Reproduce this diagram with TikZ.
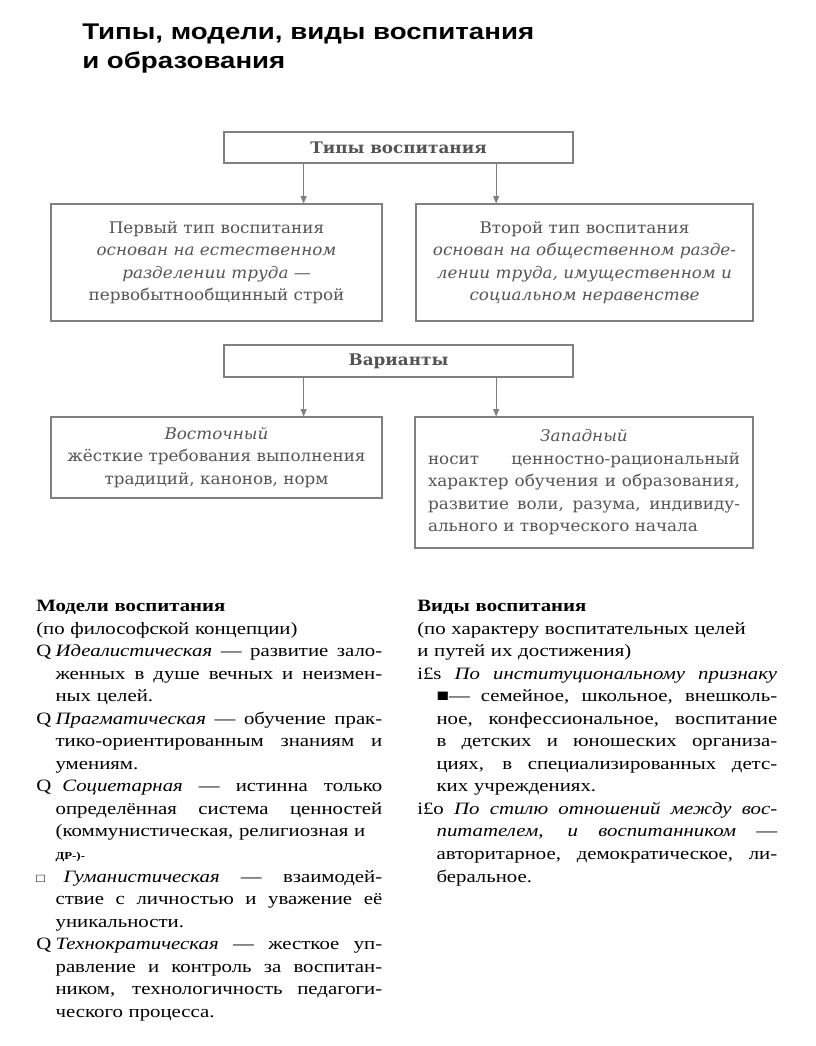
\documentclass[tikz,border=0pt]{standalone}
\usepackage{fontspec}
\setmainfont{Liberation Serif}[FakeStretch=1.2]
\newfontfamily\titlefont{Liberation Sans}[FakeStretch=1.22]
\newfontfamily\boxfont{DejaVu Serif}[FakeStretch=1.05]
\usetikzlibrary{arrows.meta,calc}
\definecolor{scan}{gray}{0.33}
\definecolor{frame}{gray}{0.5}
\newlength\itemhang
\setlength\itemhang{14.5pt}
\newcommand\stretchsp{\spaceskip=\fontdimen2\font plus 1fil minus .08em
  \xspaceskip=\spaceskip}
\newcommand\jline[1]{\noindent\makebox[\linewidth][s]{\stretchsp#1}\par}
\newcommand\centline[1]{\noindent\makebox[\linewidth][c]{#1}\par}
\newcommand\jitem[2]{\noindent\makebox[\itemhang][l]{#1}%
  \makebox[\dimexpr\linewidth-\itemhang\relax][s]{\stretchsp#2}\par}
\newcommand\jcont[1]{\noindent\hspace*{\itemhang}%
  \makebox[\dimexpr\linewidth-\itemhang\relax][s]{\stretchsp#1}\par}
\newcommand\lcont[1]{\noindent\hspace*{\itemhang}#1\par}
\newcommand\pline[1]{\noindent#1\par}

\begin{document}
\begin{tikzpicture}[x=.75pt,y=-.75pt,
  box/.style={draw=frame,line width=.8pt,text=scan,inner sep=0pt,align=center,
    font=\boxfont\fontsize{12}{16.9}\selectfont},
  head/.style={box,font=\boxfont\bfseries\fontsize{12}{14}\selectfont},
  arr/.style={draw=frame,line width=.6pt,-{Triangle[length=5.5pt,width=4.5pt]}},
  col/.style={anchor=north west,inner sep=0pt,align=left,
    font=\fontsize{13}{16.9}\selectfont}]
  \useasboundingbox (0,0) rectangle (816,1046);
  % title
  \node[anchor=north west,inner sep=0pt,align=left,
    font=\titlefont\bfseries\fontsize{17}{21.5}\selectfont] (title) at (82,24)
    {Типы, модели, виды воспитания\\и образования};
  % types
  \node[head,minimum width=261.75pt,minimum height=23.25pt] (tipy)
    at (398.5,147.5) {Типы воспитания};
  \node[box,minimum width=248.25pt,minimum height=87.75pt] (first)
    at (216.5,262.5) {Первый тип воспитания\\ \textit{основан на естественном}\\
    \textit{разделении труда —}\\ первобытнообщинный строй};
  \node[box,minimum width=252.75pt,minimum height=87.75pt] (second)
    at (584.5,262.5) {Второй тип воспитания\\
    \textit{основан на общественном разде-}\\
    \textit{лении труда, имущественном и}\\ \textit{социальном неравенстве}};
  % variants
  \node[head,minimum width=261.75pt,minimum height=24pt] (var)
    at (398.5,361) {Варианты};
  \node[box,minimum width=248.25pt,minimum height=60.75pt] (east)
    at (216.5,457.5) {\textit{Восточный}\\ жёсткие требования выполнения\\
    традиций, канонов, норм};
  \node[box,minimum width=253.5pt,minimum height=98.25pt,text width=234pt,
    align=left] (west) at (584,482.5) {\centline{\textit{Западный}}
    \jline{носит ценностно-рациональный}
    \jline{характер обучения и образования,}
    \jline{развитие воли, разума, индивиду-}
    \pline{ального и творческого начала}};
  \foreach \n/\f in {1/.229,2/.779} {
    \coordinate (t\n) at ($(tipy.south west)!\f!(tipy.south east)$);
    \coordinate (v\n) at ($(var.south west)!\f!(var.south east)$);
  }
  \draw[arr] (t1) -- (t1 |- first.north);
  \draw[arr] (t2) -- (t2 |- second.north);
  \draw[arr] (v1) -- (v1 |- east.north);
  \draw[arr] (v2) -- (v2 |- west.north);
  % models
  \node[col,text width=259.5pt] (models) at (36,600) {%
    \pline{\textbf{Модели воспитания}}
    \pline{(по философской концепции)}
    \jitem{Q}{\textit{Идеалистическая} — развитие зало-}
    \jcont{женных в душе вечных и неизмен-}
    \lcont{ных целей.}
    \jitem{Q}{\textit{Прагматическая} — обучение прак-}
    \jcont{тико-ориентированным знаниям и}
    \lcont{умениям.}
    \jitem{Q}{\hspace{5pt}\textit{Социетарная} — истинна только}
    \jcont{определённая система ценностей}
    \lcont{(коммунистическая, религиозная и}
    \lcont{\textbf{\footnotesize ДР-)-}}
    \jitem{\small□}{\hspace{6pt}\textit{Гуманистическая} — взаимодей-}
    \jcont{ствие с личностью и уважение её}
    \lcont{уникальности.}
    \jitem{Q}{\textit{Технократическая} — жесткое уп-}
    \jcont{равление и контроль за воспитан-}
    \jcont{ником, технологичность педагоги-}
    \lcont{ческого процесса.}};
  % kinds
  \node[col,text width=270pt] (kinds) at (417,600) {%
    \pline{\textbf{Виды воспитания}}
    \pline{(по характеру воспитательных целей}
    \pline{и путей их достижения)}
    \jline{i£s \textit{По институциональному признаку}}
    \jcont{■— семейное, школьное, внешколь-}
    \jcont{ное, конфессиональное, воспитание}
    \jcont{в детских и юношеских организа-}
    \jcont{циях, в специализированных детс-}
    \lcont{ких учреждениях.}
    \jline{i£o \textit{По стилю отношений между вос-}}
    \jcont{\textit{питателем, и воспитанником} —}
    \jcont{авторитарное, демократическое, ли-}
    \lcont{беральное.}};
\end{tikzpicture}
\end{document}
